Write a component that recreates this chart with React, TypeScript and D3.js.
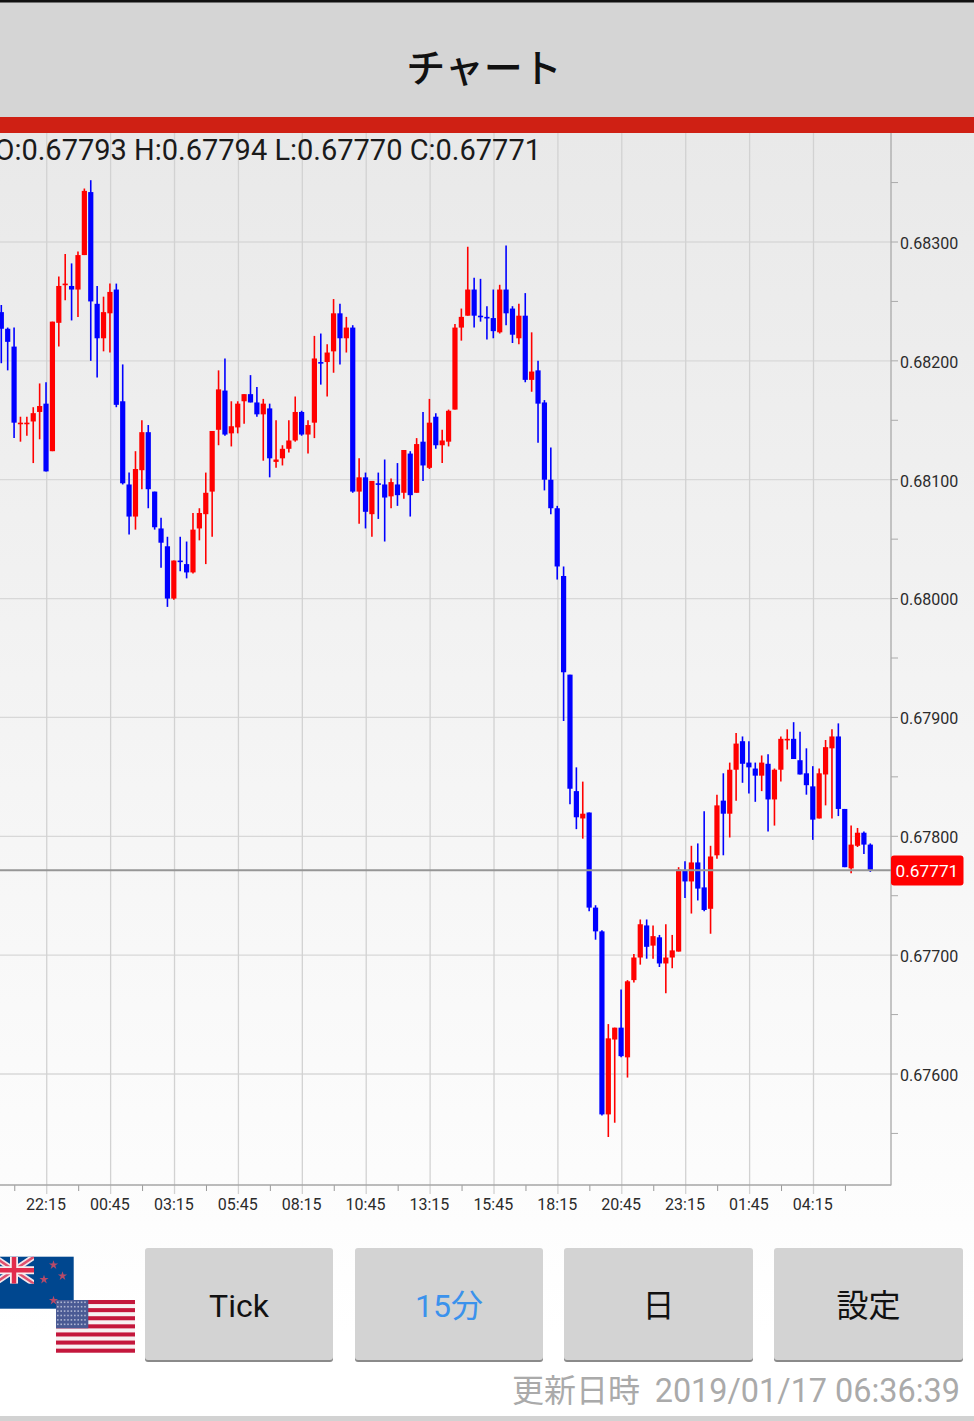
import React from "react";
import * as d3 from "d3";

// Prices in 1e-5 units (0.67793 -> 67793)
const opens = [
  68241,68227,68212,68147,68147,68149,68157,68164,68124,68232,
  68264,68263,68260,68289,68342,68248,68219,68240,68260,68166,
  68096,68069,68108,68140,68090,68059,68044,68000,68032,68029,
  68022,68059,68071,68090,68142,68175,68139,68144,68166,68172,
  68165,68155,68160,68115,68118,68126,68133,68157,68138,68148,
  68199,68199,68208,68240,68219,68228,68090,68102,68071,68097,
  68096,68086,68096,68089,68122,68089,68132,68110,68153,68129,
  68132,68159,68228,68238,68260,68238,68237,68236,68224,68260,
  68244,68219,68238,68184,68192,68165,68100,68076,68019,67936,
  67838,67815,67820,67740,67720,67566,67629,67639,67614,67679,
  67698,67725,67708,67715,67693,67698,67703,67771,67762,67778,
  67757,67739,67784,67830,67819,67856,67880,67862,67857,67851,
  67861,67831,67856,67881,67882,67864,67853,67842,67815,67852,
  67874,67884,67823,67773,67792,67803,67793,
];
const closes = [
  68227,68216,68148,68148,68148,68156,68162,68107,68233,68263,
  68265,68260,68289,68343,68250,68219,68241,68258,68163,68097,
  68069,68109,68140,68092,68060,68047,68000,68032,68031,68022,
  68058,68072,68089,68141,68176,68138,68145,68164,68172,68165,
  68155,68164,68118,68117,68126,68133,68157,68138,68146,68202,
  68198,68207,68240,68219,68228,68090,68102,68073,68099,68096,
  68085,68098,68087,68125,68087,68130,68112,68148,68129,68133,
  68158,68228,68237,68260,68238,68237,68236,68225,68260,68240,
  68222,68238,68184,68191,68164,68100,68076,68027,67938,67840,
  67816,67819,67740,67720,67566,67630,67639,67615,67678,67698,
  67726,67707,67716,67693,67698,67704,67772,67762,67778,67756,
  67738,67783,67826,67819,67856,67878,67861,67858,67851,67862,
  67831,67856,67882,67882,67865,67852,67843,67814,67853,67875,
  67884,67823,67774,67793,67803,67793,67771,
];
const highs = [
  68247,68228,68228,68153,68153,68161,68181,68182,68233,68271,
  68290,68282,68292,68345,68352,68263,68254,68265,68265,68197,
  68106,68124,68150,68146,68090,68068,68052,68032,68052,68048,
  68072,68076,68106,68141,68192,68202,68166,68166,68172,68188,
  68178,68168,68164,68150,68129,68150,68170,68158,68150,68221,
  68223,68214,68252,68248,68237,68230,68118,68106,68099,68106,
  68117,68101,68114,68125,68124,68135,68157,68168,68156,68142,
  68159,68231,68244,68296,68270,68269,68246,68260,68264,68297,
  68246,68248,68257,68224,68200,68167,68127,68078,68027,67936,
  67858,67846,67820,67742,67721,67642,67639,67671,67679,67701,
  67730,67730,67725,67717,67726,67717,67774,67779,67792,67794,
  67821,67792,67835,67853,67862,67887,67884,67880,67862,67868,
  67869,67857,67884,67890,67896,67888,67874,67859,67857,67881,
  67890,67895,67823,67809,67807,67804,67794,
];
const lows = [
  68198,68192,68135,68132,68137,68114,68134,68107,68124,68212,
  68251,68234,68237,68289,68200,68186,68208,68207,68161,68096,
  68054,68058,68092,68076,68058,68026,67993,67999,68023,68017,
  68021,68049,68029,68052,68129,68137,68128,68139,68147,68165,
  68153,68116,68102,68110,68112,68123,68132,68137,68122,68135,
  68180,68170,68190,68197,68207,68089,68063,68059,68052,68067,
  68048,68076,68078,68084,68069,68089,68099,68109,68126,68114,
  68128,68159,68217,68238,68228,68233,68218,68219,68223,68230,
  68215,68214,68182,68174,68131,68091,68071,68016,67897,67827,
  67806,67798,67737,67713,67565,67547,67559,67614,67597,67677,
  67692,67697,67697,67690,67668,67689,67703,67748,67735,67746,
  67737,67718,67781,67784,67799,67830,67845,67836,67829,67838,
  67804,67809,67846,67873,67865,67852,67835,67797,67815,67826,
  67815,67817,67774,67769,67791,67785,67770,
];
const timeLabels = ["22:15","00:45","03:15","05:45","08:15","10:45","13:15","15:45","18:15","20:45","23:15","01:45","04:15"];
const priceTicks = [68300,68200,68100,68000,67900,67800,67700,67600];
const priceMinorTicks = [68350,68250,68150,68050,67950,67850,67750,67650,67550];
const lastPrice = 67771;
const ohlcText = "O:0.67793 H:0.67794 L:0.67770 C:0.67771";
const buttonLabels = ["Tick","15分","日","設定"];
const titleText = "チャート";
const updatedLabel = "更新日時";
const updatedStamp = "2019/01/17 06:36:39";

const W = 974, H = 1421;
const FONT = "Roboto, 'Noto Sans CJK JP', sans-serif";
const CJK = "'Noto Sans CJK JP', Roboto, sans-serif";
const PLOT_TOP = 133, PLOT_BOTTOM = 1185, PLOT_RIGHT = 891;

const x = d3.scaleLinear().domain([0, 136]).range([1.3, 870.3]);
const y = d3.scaleLinear().domain([68300, 67600]).range([242, 1074]);
const fmt = (p: number) => (p / 100000).toFixed(5);
const gx = (i: number) => x(i) + 0.7;

const buttons = [
  { x0: 145, x1: 333, color: "#111" },
  { x0: 355, x1: 543, color: "#3b92ec" },
  { x0: 564, x1: 753, color: "#111" },
  { x0: 774, x1: 963, color: "#111" },
];
const nzStars: [number, number][] = [[53.5, 1265], [44, 1279.5], [62.5, 1276], [53.5, 1300.5]];

function Flags() {
  const star = d3.symbol().type(d3.symbolStar);
  const stripeH = 52.7 / 13;
  const stripes = d3.range(13);
  return (
    <g>
      <rect x={-6} y={1256.7} width={79.7} height={52} fill="#00478f" />
      <clipPath id="uj"><rect x={-6} y={1256.7} width={40} height={27} /></clipPath>
      <g clipPath="url(#uj)">
        <path d="M-6,1256.7L34,1283.7M34,1256.7L-6,1283.7" stroke="#f4e6ea" strokeWidth={6} />
        <path d="M-6,1256.7L34,1283.7M34,1256.7L-6,1283.7" stroke="#e0506e" strokeWidth={2.5} />
        <path d="M14,1256.7V1283.7M-6,1270.2H34" stroke="#f8eef0" strokeWidth={8} />
        <path d="M14,1256.7V1283.7M-6,1270.2H34" stroke="#e22c4c" strokeWidth={4.5} />
      </g>
      {nzStars.map(([sx, sy], i) => (
        <path key={i} d={star.size(26)()!} transform={`translate(${sx},${sy})`} fill="#b84a68" />
      ))}
      <rect x={56} y={1300} width={79} height={52.7} fill="#f7f1f2" />
      {stripes.filter((s) => s % 2 === 0).map((s) => (
        <rect key={s} x={56} y={1300 + s * stripeH} width={79} height={stripeH} fill="#c4173c" />
      ))}
      <rect x={56} y={1300} width={32.3} height={28.3} fill="#4a5a94" />
      {d3.range(6).map((r) => d3.range(9).map((c) => (
        <rect key={`${r}-${c}`} x={57 + c * 3.4} y={1301.5 + r * 4.4} width={1.6} height={1.6} fill="#aeb5d2" />
      )))}
    </g>
  );
}

export default function App() {
  const majorIdx = timeLabels.map((_, k) => 7 + 10 * k);
  const minorIdx = d3.range(14).map((k) => 2 + 10 * k);
  return (
    <svg width={W} height={H} viewBox={`0 0 ${W} ${H}`} style={{ position: "fixed", left: 0, top: 0, display: "block" }}>
      <defs>
        <linearGradient id="bg" x1="0" y1="0" x2="0" y2="1">
          <stop offset="0" stopColor="#e9e9e9" />
          <stop offset="1" stopColor="#ffffff" />
        </linearGradient>
      </defs>
      <rect x={0} y={0} width={W} height={H} fill="#fff" />
      <rect x={0} y={PLOT_TOP} width={W} height={1200} fill="url(#bg)" />

      {/* header */}
      <rect x={0} y={2} width={W} height={115} fill="#d5d5d5" />
      <rect x={0} y={0} width={W} height={2.5} fill="#111" />
      <rect x={0} y={117} width={W} height={16} fill="#cf2014" />
      <text x={484} y={82} textAnchor="middle" fontFamily={CJK} fontSize={39} fontWeight={500} fill="#111">{titleText}</text>

      {/* grid */}
      {priceTicks.map((p) => (
        <line key={p} x1={0} x2={PLOT_RIGHT} y1={y(p)} y2={y(p)} stroke="#d8d8d8" strokeWidth={1.3} />
      ))}
      {majorIdx.map((i) => (
        <line key={i} x1={gx(i)} x2={gx(i)} y1={PLOT_TOP} y2={1194} stroke="#d2d2d2" strokeWidth={1.3} />
      ))}
      {minorIdx.map((i) => (
        <line key={i} x1={gx(i)} x2={gx(i)} y1={PLOT_BOTTOM} y2={1191} stroke="#999" strokeWidth={1} />
      ))}

      {/* candles */}
      {opens.map((o, i) => {
        const c = closes[i];
        const color = c >= o ? "#ff0000" : "#0000ff";
        const top = y(Math.max(o, c));
        const bot = y(Math.min(o, c));
        return (
          <g key={i}>
            <line x1={x(i)} x2={x(i)} y1={y(highs[i])} y2={y(lows[i])} stroke={color} strokeWidth={1.6} />
            <rect x={x(i) - 2.6} width={5.2} y={top} height={Math.max(bot - top, 1.6)} fill={color} />
          </g>
        );
      })}

      {/* axes */}
      <line x1={0} x2={PLOT_RIGHT} y1={PLOT_BOTTOM} y2={PLOT_BOTTOM} stroke="#a6a6a6" strokeWidth={1.3} />
      <line x1={PLOT_RIGHT} x2={PLOT_RIGHT} y1={PLOT_TOP} y2={PLOT_BOTTOM + 0.6} stroke="#aeaeae" strokeWidth={1.4} />
      {[...priceTicks, ...priceMinorTicks].map((p) => (
        <line key={p} x1={PLOT_RIGHT} x2={PLOT_RIGHT + 7} y1={y(p)} y2={y(p)} stroke="#aaa" strokeWidth={1} />
      ))}
      {priceTicks.map((p) => (
        <text key={p} x={900} y={y(p) + 6.8} fontFamily={FONT} fontSize={16} fill="#2b2b2b">{fmt(p)}</text>
      ))}
      {timeLabels.map((t, k) => (
        <text key={t + k} x={x(majorIdx[k])} y={1210} textAnchor="middle" fontFamily={FONT} fontSize={16} fill="#2b2b2b">{t}</text>
      ))}

      {/* last price */}
      <line x1={0} x2={PLOT_RIGHT} y1={y(lastPrice) - 0.5} y2={y(lastPrice) - 0.5} stroke="#969696" strokeWidth={1.8} />
      <rect x={PLOT_RIGHT} y={855.5} width={72.5} height={30} rx={3} fill="#ff0000" />
      <text x={895.5} y={y(lastPrice) + 6} fontFamily={FONT} fontSize={17.3} fill="#fff">{fmt(lastPrice)}</text>

      <text x={541} y={160} textAnchor="end" fontFamily={FONT} fontSize={29} fill="#1a1a1a">{ohlcText}</text>

      {/* footer */}
      <Flags />
      {buttons.map((b, i) => (
        <g key={i}>
          <rect x={b.x0} y={1250} width={b.x1 - b.x0} height={112} rx={3} fill="#8a8a8a" />
          <rect x={b.x0} y={1248} width={b.x1 - b.x0} height={112} rx={3} fill="#d3d3d3" />
          <text x={(b.x0 + b.x1) / 2} y={1317} textAnchor="middle" fontFamily={FONT} fontSize={32} fill={b.color}>{buttonLabels[i]}</text>
        </g>
      ))}
      <text x={512} y={1402} fontFamily={CJK} fontSize={32} fill="#aaaaaa">{updatedLabel}</text>
      <text x={960} y={1402} textAnchor="end" fontFamily={FONT} fontSize={32.4} fill="#aaaaaa">{updatedStamp}</text>
      <rect x={0} y={1416} width={W} height={5} fill="#d2d2d2" />
    </svg>
  );
}
